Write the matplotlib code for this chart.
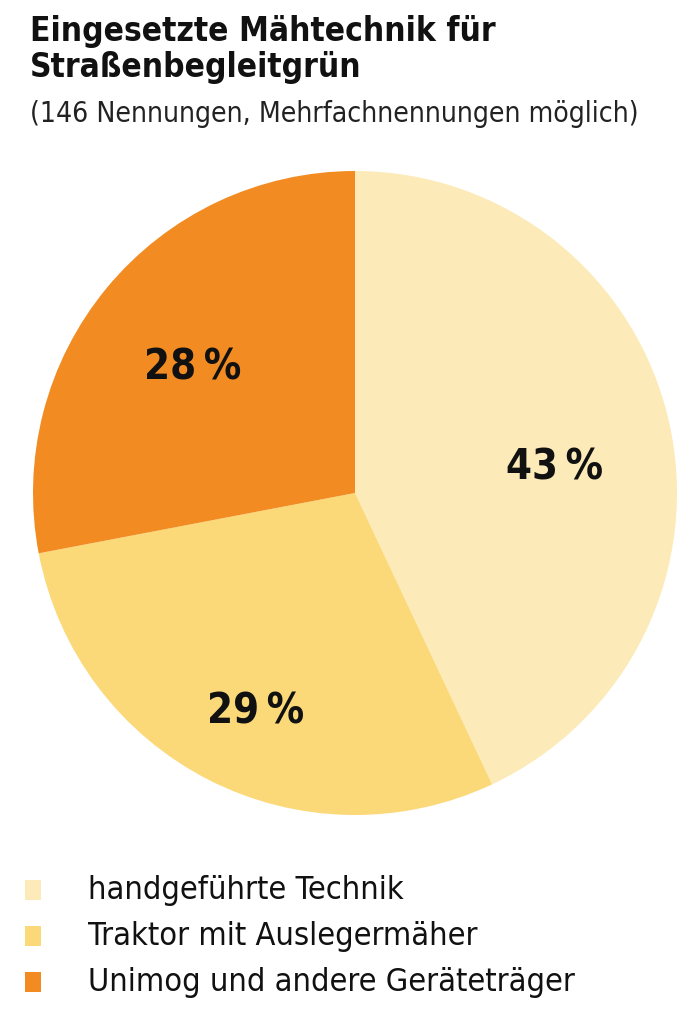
import matplotlib
matplotlib.use("Agg")
import matplotlib.pyplot as plt
from matplotlib.patches import Rectangle

categories = ["handgeführte Technik", "Traktor mit Auslegermäher", "Unimog und andere Geräteträger"]
values = [43, 29, 28]
labels = ["43\u2009%", "29\u2009%", "28\u2009%"]
colors = ["#FCEBB8", "#FBD978", "#F28C22"]
label_pos = [(0.62, 0.08), (-0.31, -0.68), (-0.505, 0.39)]

plt.rcParams['font.family'] = ["DejaVu Sans"]
plt.rcParams['font.stretch'] = 'condensed'

fig = plt.figure(figsize=(7, 10.25), dpi=100)
W, H = 700, 1025

cx, cy, r = 355, 493, 322
ax = fig.add_axes([(cx - r) / W, (H - cy - r) / H, 2 * r / W, 2 * r / H])
ax.pie(values, colors=colors, startangle=90, counterclock=False,
       wedgeprops=dict(linewidth=0))
ax.set_xlim(-1, 1); ax.set_ylim(-1, 1)
ax.set_aspect('equal')
for (x, y), lab in zip(label_pos, labels):
    ax.text(x, y, lab, ha='center', va='center', fontsize=30, fontweight='bold', color='#111111')

fig.text(30 / W, 1 - 15 / H, "Eingesetzte Mähtechnik für\nStraßenbegleitgrün", ha='left', va='top',
         fontsize=24, fontweight='bold', color='#111111', linespacing=1.12)
fig.text(30 / W, 1 - 100 / H, "(146 Nennungen, Mehrfachnennungen möglich)", ha='left', va='top',
         fontsize=20.3, color='#222222')

ys = [890, 936, 982]
for y, c, cat in zip(ys, colors, categories):
    fig.patches.append(Rectangle((25 / W, 1 - (y + 10) / H), 16 / W, 20 / H, transform=fig.transFigure,
                                 facecolor=c, edgecolor='none'))
    fig.text(88 / W, 1 - y / H, cat, ha='left', va='center', fontsize=23.3, color='#111111')

fig.savefig("out.png", dpi=100, facecolor='white')
